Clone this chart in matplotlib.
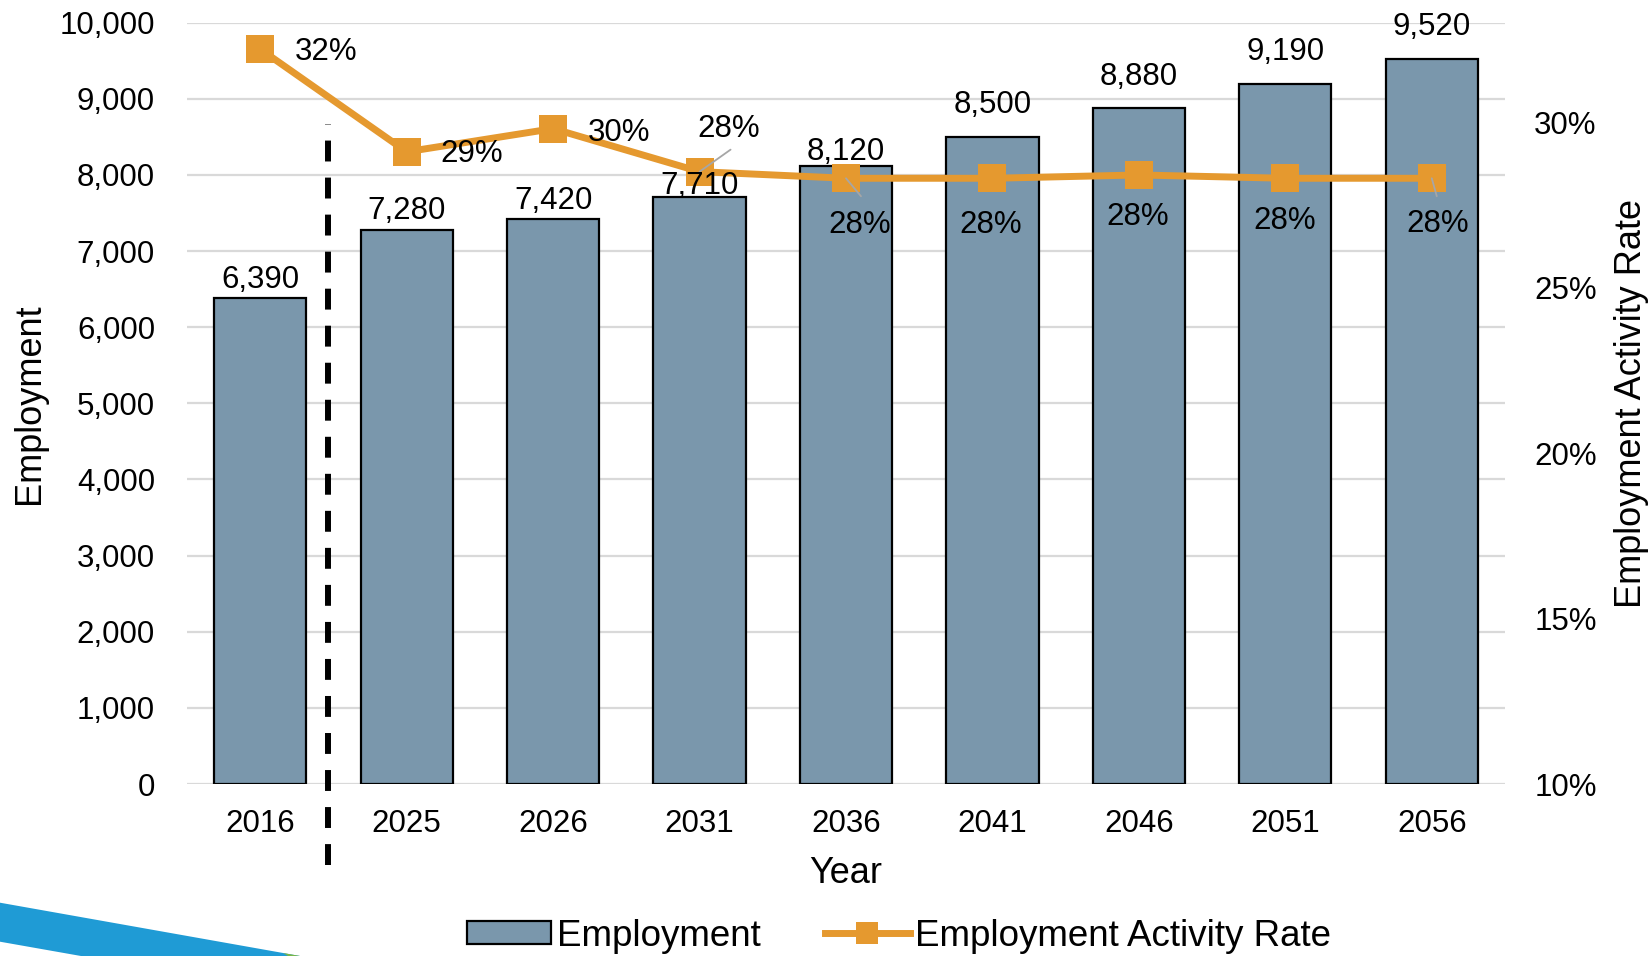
import matplotlib
matplotlib.use("Agg")
import matplotlib.pyplot as plt
from matplotlib.patches import Polygon
from matplotlib.lines import Line2D
from matplotlib.patches import Patch
from matplotlib.ticker import FuncFormatter, PercentFormatter

plt.rcParams["font.family"] = ["Liberation Sans", "DejaVu Sans"]

# ---- data ----
years = ["2016", "2025", "2026", "2031", "2036", "2041", "2046", "2051", "2056"]
employment = [6390, 7280, 7420, 7710, 8120, 8500, 8880, 9190, 9520]
activity_rate = [0.322, 0.291, 0.298, 0.285, 0.283, 0.283, 0.284, 0.283, 0.283]

# ---- styling ----
BAR_COLOR = "#7a97ac"
LINE_COLOR = "#e5992f"
GRID_COLOR = "#d9d9d9"
TICK_FS = 22.5
LABEL_FS = 22.5
TITLE_FS = 26
LEGEND_FS = 26.5

# per-label offsets in pixels (dx, dy; dy up)
bar_label_dy = [18, 19, 18, 11, 14, 32, 31, 32, 32]
rate_label_off = [(66, -3), (65, -2), (66, -4), (29, 43), (14, -47),
                  (-2, -47), (-1, -42), (-1, -43), (6, -46)]
leaders = {3: (31, 22), 4: (15, -18), 8: (5, -18)}

W, H = 1650, 956
fig = plt.figure(figsize=(W / 100, H / 100), dpi=100)
ax = fig.add_axes([187 / W, 1 - 784 / H, 1318 / W, (784 - 22.7) / H])

x = list(range(len(years)))

ax.bar(x, employment, width=0.63, color=BAR_COLOR, edgecolor="black",
       linewidth=1.6, zorder=2)
ax.set_xlim(-0.5, len(years) - 0.5)
ax.set_ylim(0, 10000)
ax.set_yticks(range(0, 10001, 1000))
ax.yaxis.set_major_formatter(FuncFormatter(lambda v, p: f"{int(v):,}"))
ax.grid(axis="y", color=GRID_COLOR, linewidth=1.6, zorder=0)
ax.set_axisbelow(True)
ax.set_xticks(x)
ax.set_xticklabels(years)
ax.tick_params(axis="y", length=0, pad=23, labelsize=TICK_FS)
ax.tick_params(axis="x", length=0, pad=18, labelsize=TICK_FS)
for s in ax.spines.values():
    s.set_visible(False)

ax.set_ylabel("Employment", fontsize=TITLE_FS, va="center")
ax.yaxis.set_label_coords(-0.1195, 0.5)
ax.set_xlabel("Year", fontsize=TITLE_FS, va="center")
ax.xaxis.set_label_coords(0.5, -0.118)

# divider between the base year and the projections
sep_pos = 0.463
ax.plot([sep_pos, sep_pos], [-0.106, 0.867], transform=ax.get_xaxis_transform(),
        color="black", linewidth=4.3, dashes=(3.5, 2.7), clip_on=False,
        solid_capstyle="butt", dash_capstyle="butt", zorder=3)

ax2 = ax.twinx()
ax2.set_ylim(0.10, 0.33)
ax2.set_yticks([0.10, 0.15, 0.20, 0.25, 0.30])
ax2.yaxis.set_major_formatter(PercentFormatter(1.0, decimals=0))
ax2.tick_params(axis="y", length=0, pad=21, labelsize=TICK_FS)
for s in ax2.spines.values():
    s.set_visible(False)
ax2.set_ylabel("Employment Activity Rate", fontsize=TITLE_FS, va="center")
ax2.yaxis.set_label_coords(1.0956, 0.5)

ax2.plot(x, activity_rate, color=LINE_COLOR, linewidth=5, marker="s",
         markersize=19.5, markeredgewidth=0, zorder=3)

# leader lines
for i, (dx, dy) in leaders.items():
    ax2.annotate("", xy=(x[i], activity_rate[i]), xytext=(dx, dy),
                 textcoords="offset pixels",
                 arrowprops=dict(arrowstyle="-", color="#a6a6a6", lw=1.3,
                                 shrinkA=0, shrinkB=0), zorder=4)

# rate labels
for i, (dx, dy) in enumerate(rate_label_off):
    ax2.annotate(f"{activity_rate[i]:.0%}", xy=(x[i], activity_rate[i]),
                 xytext=(dx, dy), textcoords="offset pixels",
                 ha="center", va="center", fontsize=LABEL_FS, zorder=5)

# bar value labels (drawn above the line layer)
for i, v in enumerate(employment):
    ax2.annotate(f"{v:,}", xy=(x[i], v), xycoords=ax.transData,
                 xytext=(0, bar_label_dy[i]), textcoords="offset pixels",
                 ha="center", va="center", fontsize=LABEL_FS, zorder=5)

# legend
handles = [
    Patch(facecolor=BAR_COLOR, edgecolor="black", linewidth=1.6),
    Line2D([0], [0], color=LINE_COLOR, linewidth=5, marker="s",
           markersize=16, markeredgewidth=0),
]
fig.legend(handles, ["Employment", "Employment Activity Rate"],
           loc="center", bbox_to_anchor=(899 / W, 1 - 936 / H), ncol=2,
           frameon=False, fontsize=LEGEND_FS, handlelength=2.3,
           handleheight=0.6, handletextpad=0.15, columnspacing=1.75,
           borderaxespad=0, borderpad=0)

# corner swoosh
def px(pts):
    return [(a / W, 1 - b / H) for a, b in pts]

fig.patches.append(Polygon(px([(0, 902.7), (300, 956), (81, 956), (0, 941.7)]),
                           closed=True, transform=fig.transFigure,
                           facecolor="#1f9bd5", edgecolor="none"))
fig.patches.append(Polygon(px([(283, 953), (300, 956), (288, 956)]),
                           closed=True, transform=fig.transFigure,
                           facecolor="#7ab648", edgecolor="none"))

fig.savefig("out.png", dpi=100)
